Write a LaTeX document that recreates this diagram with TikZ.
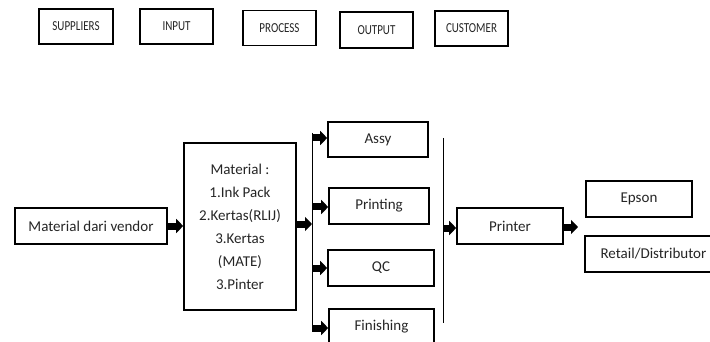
\documentclass[tikz,border=0pt]{standalone}
\usepackage{fontspec}
\setmainfont{Carlito}
\usetikzlibrary{arrows.meta}
\newcommand{\tallcaps}[1]{\scalebox{1}[1.25]{#1}}
\tikzset{
  box/.style={draw, line width=1.6pt, minimum height=36pt, inner sep=0pt,
    text=black!85, font=\fontsize{15}{23}\selectfont, align=center},
  stagebox/.style={box, minimum width=73pt, minimum height=35pt,
    line width=1.8pt, font=\fontsize{11}{13}\selectfont},
  blockarrow/.style={line width=7pt, -{Triangle[length=7pt,width=14pt]}},
  bus/.style={line width=1pt}
}
\begin{document}
\begin{tikzpicture}[x=1pt,y=-1pt]
\useasboundingbox (0,0) rectangle (710,342);
\clip (0,0) rectangle (710,342);
\fill[white] (0,0) rectangle (710,342);

% stage headings
\node[stagebox, minimum width=74pt] (sup) at (76,26.5) {\tallcaps{SUPPLIERS}};
\node[stagebox] (inp) at (176.5,26.5) {\tallcaps{INPUT}};
\node[stagebox] (proc) at (279.5,28) {\tallcaps{PROCESS}};
\node[stagebox, minimum height=36pt] (outp) at (376.5,30) {\tallcaps{OUTPUT}};
\node[stagebox] (cust) at (471.5,28.5) {\tallcaps{CUSTOMER}};

% supply and input
\node[box, minimum width=152pt] (vendor) at (91,226) {Material dari vendor};
\node[box, minimum width=112pt, minimum height=167pt] (mat) at (240,226.5)
  {Material :\\1.Ink Pack\\2.Kertas(RLIJ)\\3.Kertas\\(MATE)\\3.Pinter};

% process steps
\node[box, minimum width=100pt, minimum height=35pt] (assy) at (378,139.5) {Assy};
\node[box, minimum width=100pt] (printing) at (379,206) {Printing};
\node[box, minimum width=106pt] (qc) at (381,268) {QC};
\node[box, minimum width=105pt] (fin) at (381.5,327) {Finishing};

% output and customers
\node[box, minimum width=106pt] (printer) at (510,226) {Printer};
\node[box, minimum width=106pt] (epson) at (639,199) {Epson};
\node[box, minimum width=137pt] (retail) at (653.5,254) {Retail/Distributor};

% distribution and collection bars
\coordinate (busTop) at (312,133);
\coordinate (busBot) at (312,330);
\draw[bus] (busTop) -- (busBot);
\coordinate (bus2Top) at (443,138);
\coordinate (bus2Bot) at (443,323);
\draw[bus] (bus2Top) -- (bus2Bot);

% flow arrows
\draw[blockarrow] (vendor.east) -- (vendor.east -| mat.west);
\coordinate (busIn) at (312,224);
\draw[blockarrow] (mat.east |- busIn) -- (busIn);
\foreach \n/\y in {assy/138, printing/207, qc/268, fin/328} {
  \coordinate (tap-\n) at (312,\y);
  \draw[blockarrow] (tap-\n) -- (tap-\n -| \n.west);
}
\coordinate (bus2Out) at (443,228);
\draw[blockarrow] (bus2Out) -- (bus2Out -| printer.west);
\coordinate (custIn) at (578,227);
\draw[blockarrow] (printer.east |- custIn) -- (custIn);
\end{tikzpicture}
\end{document}
